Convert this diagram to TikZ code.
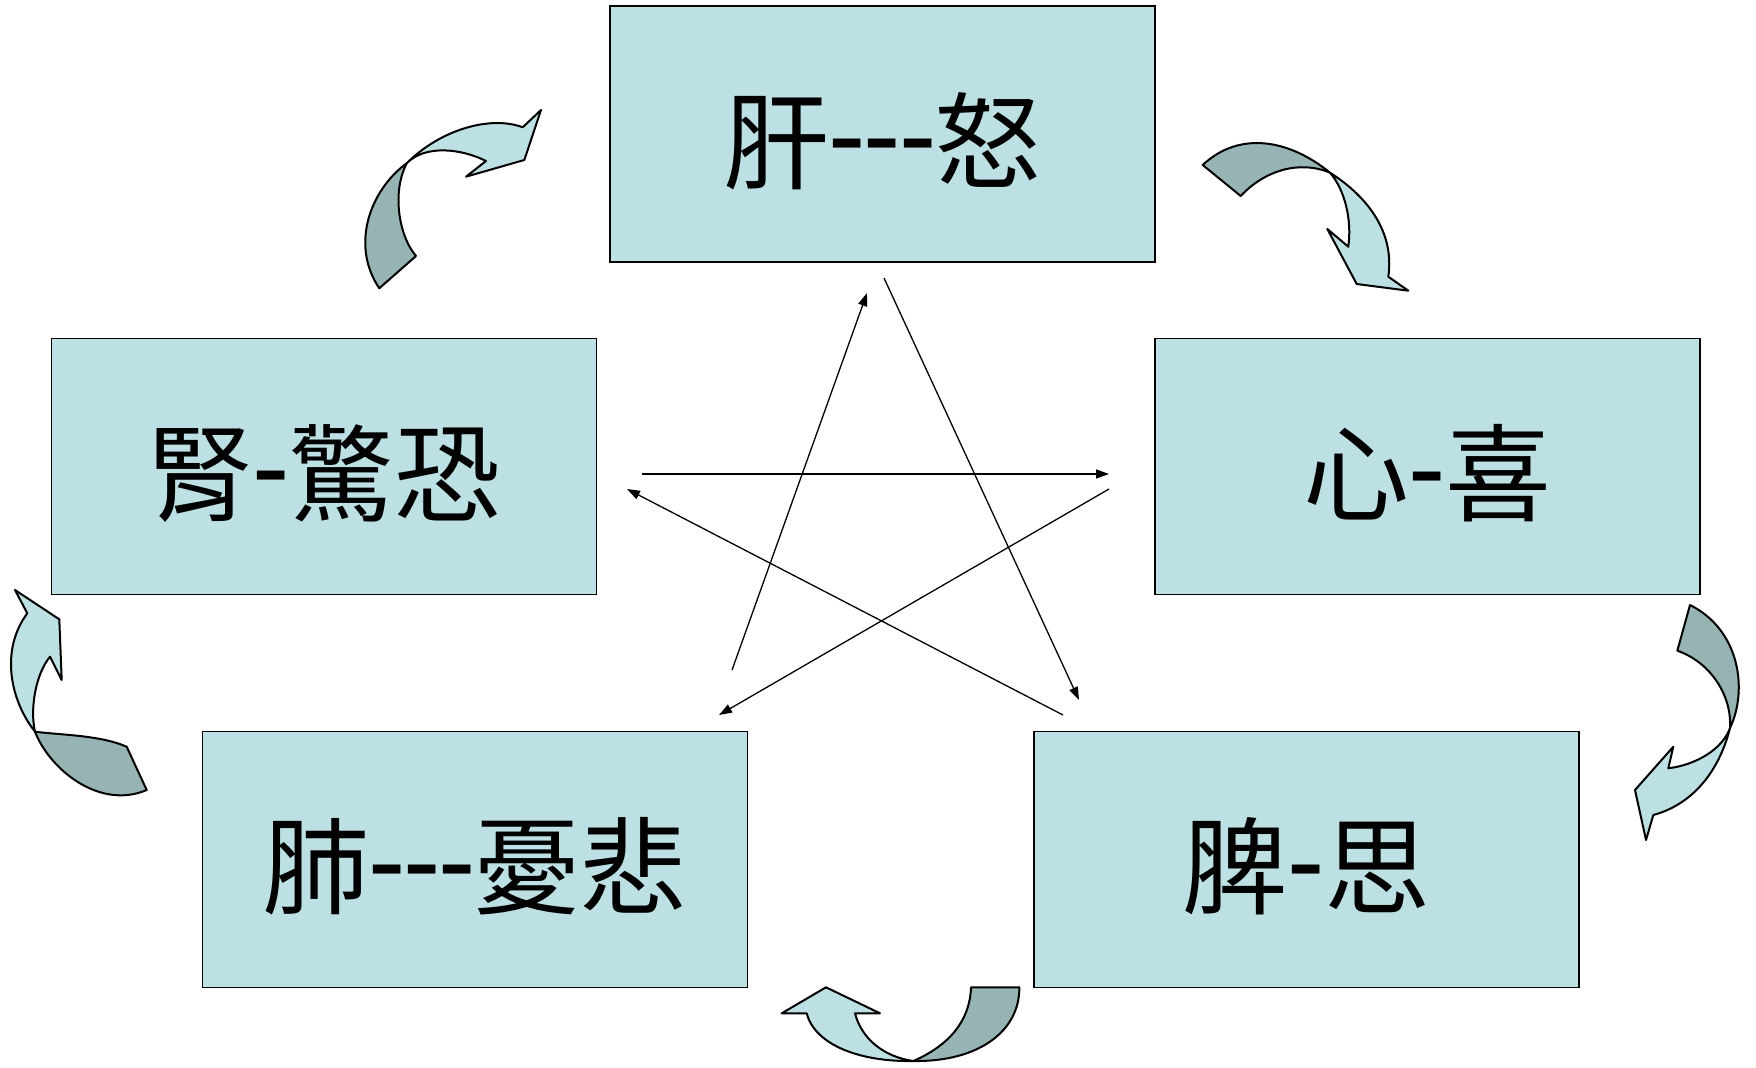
\documentclass[tikz,border=0pt]{standalone}
\usepackage{fontspec}
\usetikzlibrary{arrows.meta}
\newfontfamily\cjk{Noto Sans CJK TC}
\newfontfamily\dashfont{Liberation Serif}
\definecolor{boxfill}{HTML}{BCE0E3}
\definecolor{darkfill}{HTML}{97B4B5}
\newcommand{\dsh}{\raisebox{0.12em}{\dashfont\bfseries\mbox{-}}}
\tikzset{
  box/.style={draw=black, line width=1.5pt, fill=boxfill, minimum width=545pt, minimum height=256pt, inner sep=0pt},
  lbl/.style={font=\cjk\fontsize{106}{110}\selectfont, inner sep=0pt},
  starline/.style={line width=1.3pt, -{Triangle[length=13pt,width=9pt]}},
  lightpart/.style={draw=black, line width=2pt, fill=boxfill, line join=round},
  darkpart/.style={draw=black, line width=2pt, fill=darkfill, line join=round}
}
\begin{document}
\begin{tikzpicture}[x=1pt,y=-1pt]
\useasboundingbox (0,0) rectangle (1756,1068);
% boxes
\node[box] (gan) at (882.5,134) {};
\node[box] (shen) at (324,466.5) {};
\node[box] (xin) at (1427.5,466.5) {};
\node[box] (fei) at (475,859.5) {};
\node[box] (pi) at (1306.5,859.5) {};
% labels
\node[lbl] (tgan) at ([yshift=-7pt]gan.center) {肝\dsh\dsh\dsh 怒};
\node[lbl] (tshen) at ([yshift=-7pt]shen.center) {腎\dsh 驚恐};
\node[lbl] (txin) at ([yshift=-7pt]xin.center) {心\dsh 喜};
\node[lbl] (tfei) at ([yshift=-7pt]fei.center) {肺\dsh\dsh\dsh 憂悲};
\node[lbl] (tpi) at ([yshift=-7pt]pi.center) {脾\dsh 思};
% star connector end points
\coordinate (a1) at (884,278);  \coordinate (b1) at (1079,700);
\coordinate (a2) at (1063,715); \coordinate (b2) at (627,489);
\coordinate (a3) at (642,474);  \coordinate (b3) at (1109,474);
\coordinate (a4) at (1109,489); \coordinate (b4) at (719,715);
\coordinate (a5) at (732,670);  \coordinate (b5) at (867,293);
\draw[starline] (a1) -- (b1);
\draw[starline] (a2) -- (b2);
\draw[starline] (a3) -- (b3);
\draw[starline] (a4) -- (b4);
\draw[starline] (a5) -- (b5);
% curved arrow 1 (top-left)
\draw[darkpart] (407,163) .. controls (370,190) and (350,245) .. (379.3,288.3)
  -- (416,256) .. controls (398,235) and (392,190) .. (407,163) -- cycle;
\draw[lightpart] (407,163) .. controls (440,130) and (490,115) .. (522.7,127.3)
  -- (541,110) -- (524.3,160) -- (466,176.7) -- (486,161)
  .. controls (460,148) and (425,145) .. (407,163) -- cycle;
% curved arrow 2 (top-right)
\draw[darkpart] (1330,172.7) .. controls (1290,140) and (1240,130) .. (1202.7,165)
  -- (1240.7,196) .. controls (1265,170) and (1300,160) .. (1330,172.7) -- cycle;
\draw[lightpart] (1330,172.7) .. controls (1365,195) and (1395,230) .. (1388.3,276.7)
  -- (1408.3,290.7) -- (1356.7,284) -- (1327.3,229) -- (1348.3,246.7)
  .. controls (1352,220) and (1345,190) .. (1330,172.7) -- cycle;
% curved arrow 3 (right)
\draw[darkpart] (1730,728) .. controls (1748,690) and (1740,630) .. (1690,605)
  -- (1677.3,650.7) .. controls (1710,662) and (1732,695) .. (1730,728) -- cycle;
\draw[lightpart] (1730,728) .. controls (1718,775) and (1690,805) .. (1653.3,815)
  -- (1646,840) -- (1635,790) -- (1673.3,746.7) -- (1668.3,768.3)
  .. controls (1695,765) and (1722,750) .. (1730,728) -- cycle;
% curved arrow 4 (bottom)
\draw[darkpart] (913.3,1061) .. controls (980,1062) and (1020,1030) .. (1019.3,987.3)
  -- (971,987.3) .. controls (970,1020) and (950,1045) .. (913.3,1061) -- cycle;
\draw[lightpart] (913.3,1061) .. controls (860,1062) and (815,1045) .. (806.7,1013.3)
  -- (781.7,1013.3) -- (826,987.3) -- (880,1013.3) -- (855,1013.3)
  .. controls (862,1040) and (885,1057) .. (913.3,1061) -- cycle;
% curved arrow 5 (left)
\draw[darkpart] (35,731.7) .. controls (50,770) and (100,810) .. (146.7,790)
  -- (126.7,746.7) .. controls (100,735) and (60,735) .. (35,731.7) -- cycle;
\draw[lightpart] (35,731.7) .. controls (10,700) and (0,650) .. (27.3,613.3)
  -- (15,590) -- (59.3,619.3) -- (61.7,680) -- (50,656.7)
  .. controls (35,675) and (30,710) .. (35,731.7) -- cycle;
\end{tikzpicture}
\end{document}
